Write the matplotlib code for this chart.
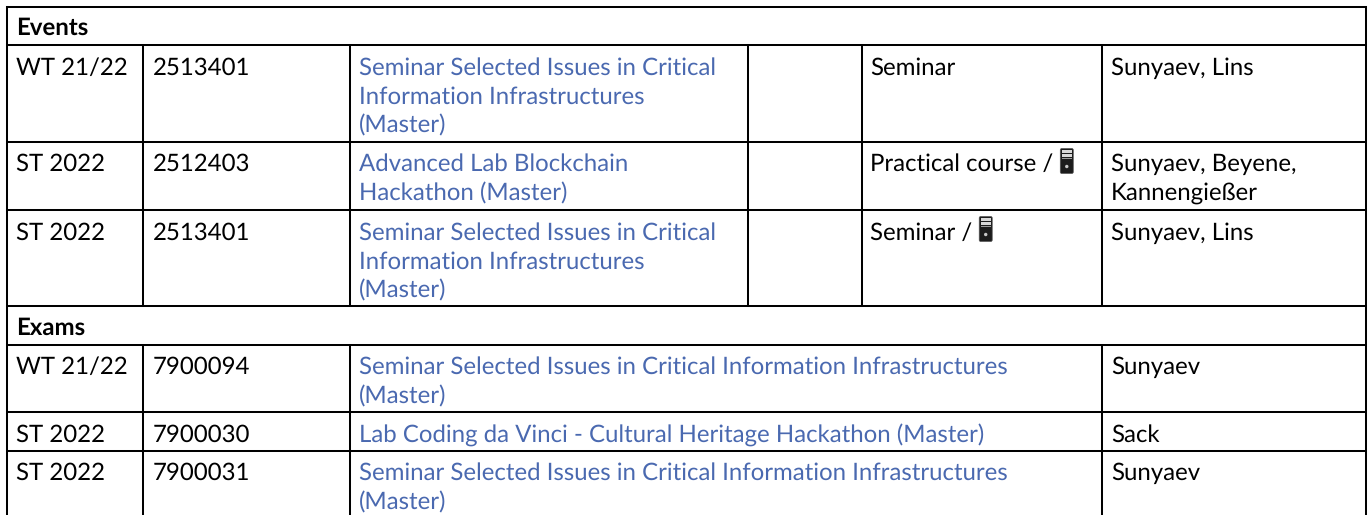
import matplotlib
matplotlib.use("Agg")
import matplotlib.pyplot as plt
from matplotlib.patches import FancyBboxPatch, Rectangle, Circle

W, H = 1370, 515
FS = 17.2
LINE = 29
LINK = "#4a69b0"
INK = "#000000"

col_x = [7, 143, 350, 748, 862, 1102, 1366]
row_y = [7, 45, 142, 210, 306, 345, 412, 451, 530]
baselines = [74.5, 171, 239.5, 374, 441.5, 480]
section_baselines = [35, 335]

section_titles = ["Events", "Exams"]

terms = ["WT 21/22", "ST 2022", "ST 2022", "WT 21/22", "ST 2022", "ST 2022"]
numbers = ["2513401", "2512403", "2513401", "7900094", "7900030", "7900031"]
titles = [
    ["Seminar Selected Issues in Critical", "Information Infrastructures", "(Master)"],
    ["Advanced Lab Blockchain", "Hackathon (Master)"],
    ["Seminar Selected Issues in Critical", "Information Infrastructures", "(Master)"],
    ["Seminar Selected Issues in Critical Information Infrastructures", "(Master)"],
    ["Lab Coding da Vinci - Cultural Heritage Hackathon (Master)"],
    ["Seminar Selected Issues in Critical Information Infrastructures", "(Master)"],
]
kinds = ["Seminar", "Practical course /", "Seminar /", None, None, None]
has_icon = [False, True, True, False, False, False]
lecturers = [
    ["Sunyaev, Lins"],
    ["Sunyaev, Beyene,", "Kannengießer"],
    ["Sunyaev, Lins"],
    ["Sunyaev"],
    ["Sack"],
    ["Sunyaev"],
]
row_tops = [1, 2, 3, 5, 6, 7]

plt.rcParams["font.family"] = ["Lato", "DejaVu Sans"]
plt.rcParams["text.hinting"] = "none"
plt.rcParams["text.hinting_factor"] = 1
fig = plt.figure(figsize=(W / 100, H / 100), dpi=100, facecolor="white")
ax = fig.add_axes([0, 0, 1, 1])
ax.set_xlim(0, W)
ax.set_ylim(H, 0)
ax.axis("off")

LW = 1.45


def hline(y, x0=col_x[0], x1=col_x[-1]):
    ax.plot([x0, x1], [y, y], color="#000000", lw=LW, solid_capstyle="projecting")


def vline(x, y0, y1):
    ax.plot([x, x], [y0, y1], color="#000000", lw=LW, solid_capstyle="projecting")


def put(x, y, s, color=INK, weight="normal"):
    return ax.text(x, y, s, fontsize=FS, color=color, fontweight=weight,
                   ha="left", va="baseline")


def icon(x, y):
    ax.add_patch(FancyBboxPatch((x, y), 13, 25,
                                boxstyle="round,pad=0,rounding_size=1.5",
                                fc="#1c1c1c", ec="#555555", lw=0.5))
    ax.add_patch(Rectangle((x + 2, y + 1.8), 9.5, 3.0, fc="#d8d8d8", ec="none"))
    ax.add_patch(Rectangle((x + 2, y + 5.6), 9.5, 3.0, fc="#d8d8d8", ec="none"))
    ax.add_patch(Rectangle((x + 2, y + 9.6), 9.5, 1.0, fc="#9a9a9a", ec="none"))
    ax.add_patch(Circle((x + 6.5, y + 18), 1.7, fc="#c8c8c8", ec="none"))


# grid
for y in row_y[:-1]:
    hline(y)
vline(col_x[0], row_y[0], H + 5)
vline(col_x[-1], row_y[0], H + 5)
for i, top in enumerate(row_tops):
    y0, y1 = row_y[top], row_y[top + 1]
    xs = col_x[1:3] + col_x[5:6]
    if kinds[i] is not None:
        xs = col_x[1:6]
    for x in xs:
        vline(x, y0, y1)

# section headings
for title, base in zip(section_titles, section_baselines):
    put(col_x[0] + 9.5, base, title, weight="bold")

# body
for i, top in enumerate(row_tops):
    y = baselines[i]
    put(col_x[0] + 9.5, y, terms[i])
    put(col_x[1] + 9.5, y, numbers[i])
    for j, line in enumerate(titles[i]):
        put(col_x[2] + 9, y + j * LINE, line, color=LINK)
    if kinds[i] is not None:
        t = put(col_x[4] + 8, y, kinds[i])
        if has_icon[i]:
            fig.canvas.draw()
            bb = t.get_window_extent()
            icon(bb.x1 + 7, row_y[top] + 6.5)
    for j, line in enumerate(lecturers[i]):
        put(col_x[5] + 9, y + j * LINE, line)

fig.savefig("out.png", dpi=100, facecolor="white")
